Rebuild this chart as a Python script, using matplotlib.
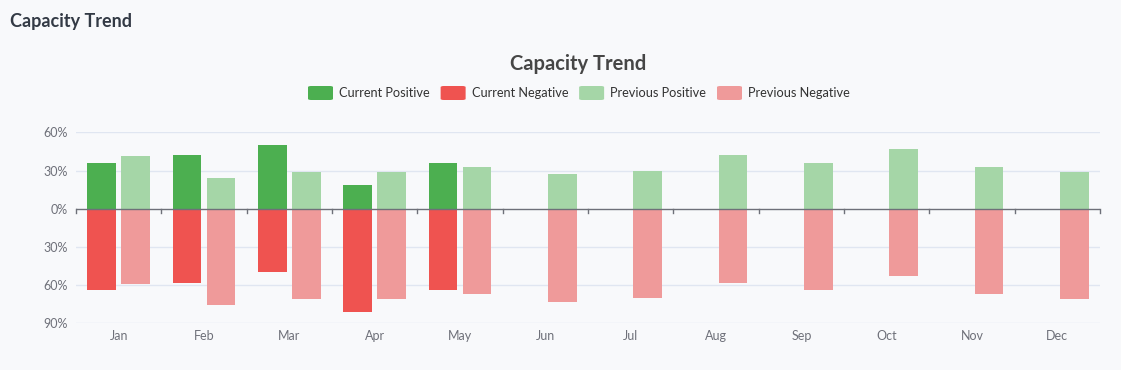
import matplotlib.pyplot as plt
import numpy as np
from matplotlib.patches import FancyBboxPatch
from matplotlib.ticker import FuncFormatter

plt.rcParams['font.family'] = ['Lato', 'DejaVu Sans']

months = ["Jan", "Feb", "Mar", "Apr", "May", "Jun",
          "Jul", "Aug", "Sep", "Oct", "Nov", "Dec"]
current_pos = [36, 42, 50, 19, 36, None, None, None, None, None, None, None]
current_neg = [-64, -58, -50, -81, -64, None, None, None, None, None, None, None]
previous_pos = [41, 24, 29, 29, 33, 27, 30, 42, 36, 47, 33, 29]
previous_neg = [-59, -76, -71, -71, -67, -73, -70, -58, -64, -53, -67, -71]
y_ticks = [-90, -60, -30, 0, 30, 60]

series = [
    ("Current Positive", current_pos, "#4caf50", -0.2),
    ("Current Negative", current_neg, "#ef5350", -0.2),
    ("Previous Positive", previous_pos, "#a5d6a7", 0.2),
    ("Previous Negative", previous_neg, "#ef9a9a", 0.2),
]

bg = "#f8f9fb"
W, H = 1121, 370
fig = plt.figure(figsize=(W / 100, H / 100), dpi=100, facecolor=bg)
ax = fig.add_axes([76 / W, 1 - 323.3 / H, 1024 / W, 191 / H], facecolor=bg)

x = np.arange(len(months))
for name, vals, colour, off in series:
    v = np.array([np.nan if a is None else a for a in vals], dtype=float)
    ax.bar(x + off, v, width=0.336, color=colour, zorder=2)

ax.set_xlim(-0.5, len(months) - 0.5)
ax.set_ylim(min(y_ticks), max(y_ticks))
ax.set_yticks(y_ticks)
ax.yaxis.set_major_formatter(FuncFormatter(lambda v, p: "%d%%" % abs(v)))
ax.set_xticks(x)
ax.set_xticklabels(months)
ax.tick_params(axis="both", length=0, labelsize=9, colors="#6e7079")
ax.tick_params(axis="x", pad=5)
ax.tick_params(axis="y", pad=6)
for s in ax.spines.values():
    s.set_visible(False)
for t in y_ticks:
    if t != 0:
        ax.axhline(t, color="#e0e6f1", lw=1, zorder=0)
ax.axhline(0, color="#6e7079", lw=1, zorder=3)

# small tick marks on the zero axis at band boundaries
tick_len = 4 * 150 / 191
for b in np.arange(-0.5, len(months), 1.0):
    ax.plot([b, b], [0, -tick_len], color="#6e7079", lw=1, zorder=3, clip_on=False)

# titles
fig.text(10 / W, 1 - 22 / H, "Capacity Trend", fontsize=13, fontweight="bold",
         color="#333a45", va="center", ha="left")
fig.text(578 / W, 1 - 64 / H, "Capacity Trend", fontsize=14.5, fontweight="bold",
         color="#464646", va="center", ha="center")

# legend
fig.canvas.draw()
renderer = fig.canvas.get_renderer()
xpos = 308
ly = 93
for name, vals, colour, off in series:
    fig.patches.append(FancyBboxPatch((xpos / W, 1 - (ly + 7) / H), 25 / W, 14 / H,
                                      boxstyle="round,pad=0,rounding_size=0.003",
                                      transform=fig.transFigure, facecolor=colour,
                                      edgecolor="none"))
    t = fig.text((xpos + 31) / W, 1 - ly / H, name, fontsize=9.2, color="#333333",
                 va="center", ha="left")
    w = t.get_window_extent(renderer).width
    xpos = xpos + 31 + w + 11

fig.savefig("out.png", dpi=100, facecolor=bg)
